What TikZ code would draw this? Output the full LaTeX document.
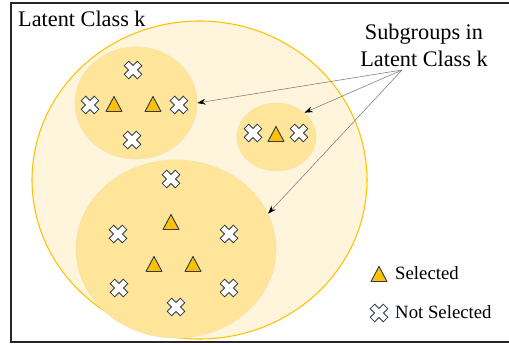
\documentclass[tikz,border=0pt]{standalone}
\usepackage{fontspec}
\setmainfont{Liberation Serif}
\usetikzlibrary{shapes.geometric, arrows.meta}
\definecolor{gold}{HTML}{FFC000}
\definecolor{cream}{HTML}{FFF5DC}
\definecolor{sand}{HTML}{FFE599}
\definecolor{sandline}{HTML}{F8E2A6}
\definecolor{ink}{HTML}{2F3B50}
\tikzset{
  group/.style={ellipse, inner sep=0pt, fill=sand, draw=sandline, line width=0.5pt},
  sel/.pic={\draw[ink, fill=gold, line width=0.8pt, line join=round] (-8,7.5)--(8,7.5)--(0,-7.5)--cycle;},
  nosel/.pic={\draw[ink, fill=white, line width=0.7pt, rotate=45]
    (3.2,3.2)--(9.3,3.2)--(9.3,-3.2)--(3.2,-3.2)--(3.2,-9.3)--(-3.2,-9.3)--(-3.2,-3.2)--(-9.3,-3.2)
    --(-9.3,3.2)--(-3.2,3.2)--(-3.2,9.3)--(3.2,9.3)--cycle;}
}

\begin{document}
\begin{tikzpicture}[x=0.03cm,y=-0.03cm]
            \useasboundingbox (0,0) rectangle (509,345);
            \draw[line width=1.6pt,black!85] (11,3) rectangle (512,342);
            \node[anchor=base west,inner sep=0pt,font=\fontsize{19}{23}\selectfont] (title) at (18,27) {Latent Class k};
            % latent class and its subgroups
            \node[ellipse,inner sep=0pt,fill=cream,draw=gold,line width=0.9pt,minimum width=10.05cm,minimum height=9.54cm] (cls) at (199.5,180) {};
            \node[group,minimum width=3.66cm,minimum height=3.36cm] (g1) at (136,103) {};
            \node[group,minimum width=2.37cm,minimum height=2.04cm] (g2) at (276.5,137) {};
            \node[group,minimum width=6.0cm,minimum height=5.34cm] (g3) at (176,249) {};
            \foreach \x/\y in {133/70,90/105,179/105,132/140,253/133,299/133,171/179,118/234,229/234,119/288,229/288,176/307}{
                \pic at (\x,\y) {nosel};
            }
            \foreach \x/\y in {114/104,153/104,276/134,171/222,154/264,193/264}{
                \pic at (\x,\y) {sel};
            }
            % label and arrows
            \node[align=center,inner sep=0pt,font=\fontsize{19}{23}\selectfont] (sub) at (424,45) {Subgroups in\\Latent Class k};
            \coordinate (src) at (402,70);
            \draw[gray,line width=0.5pt,-{Stealth[black,length=7pt,width=5pt]}] (src)--(g1.east);
            \draw[gray,line width=0.5pt,-{Stealth[black,length=7pt,width=5pt]}] (src)--(g2.41);
            \draw[gray,line width=0.5pt,-{Stealth[black,length=7pt,width=5pt]}] (src)--(g3.21);
            % legend
            \pic at (379,274) {sel};
            \node[anchor=base west,inner sep=0pt,font=\fontsize{16}{19}\selectfont] (lsel) at (395,279) {Selected};
            \pic at (379,313) {nosel};
            \node[anchor=base west,inner sep=0pt,font=\fontsize{16}{19}\selectfont] (lnot) at (395,318) {Not Selected};
        \end{tikzpicture}
\end{document}
